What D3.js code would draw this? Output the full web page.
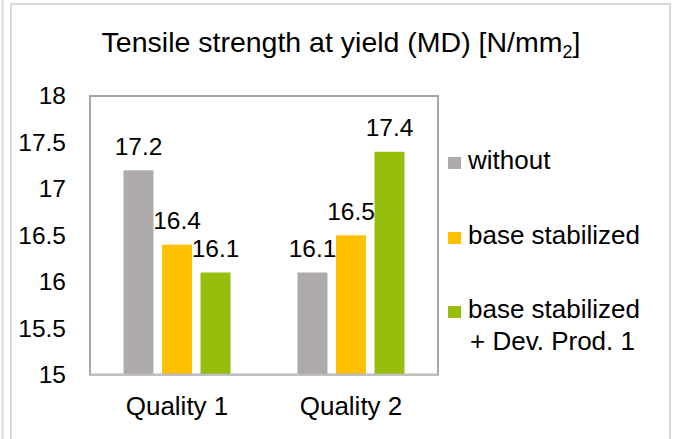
<!DOCTYPE html>
<html>
<head>
<meta charset="utf-8">
<script src="https://cdn.jsdelivr.net/npm/d3@7"></script>
<style>
  html, body { margin: 0; padding: 0; background: #fff; }
  svg { display: block; font-family: "Liberation Sans", Arial, sans-serif; }
</style>
</head>
<body>
<svg id="chart" width="676" height="439"></svg>
<script>
// Tensile strength at yield (MD) per quality and stabilization package
const categories = ["Quality 1", "Quality 2"];
const seriesNames = ["without", "base stabilized", "base stabilized + Dev. Prod. 1"];
const seriesColors = ["#AEAAAA", "#FFC000", "#97BE0D"];
const valuesWithout = [17.2, 16.1];
const valuesBase = [16.4, 16.5];
const valuesBaseDev = [16.1, 17.4];
const yTicks = [15, 15.5, 16, 16.5, 17, 17.5, 18];

const seriesValues = [valuesWithout, valuesBase, valuesBaseDev];
const rows = [];
categories.forEach((c, ci) => {
  seriesNames.forEach((s, si) => rows.push({ category: c, series: s, si, value: seriesValues[si][ci] }));
});

const svg = d3.select("#chart");

// outer chart frame
svg.append("line").attr("x1", 2.5).attr("x2", 2.5).attr("y1", 0).attr("y2", 439)
  .attr("stroke", "#d9d9d9").attr("stroke-width", 2);
svg.append("rect").attr("x", 11).attr("y", 4).attr("width", 659).attr("height", 460)
  .attr("fill", "none").attr("stroke", "#d9d9d9").attr("stroke-width", 2);

const plot = { left: 90, right: 438, top: 96, bottom: 374.7 };

const x0 = d3.scaleBand().domain(categories).range([plot.left, plot.right]).padding(0);
const x1 = d3.scaleBand().domain(seriesNames).range([0, x0.bandwidth()])
  .paddingInner(0.221).paddingOuter(0.87);
const y = d3.scaleLinear().domain([15, 18]).range([plot.bottom, plot.top]);
const color = d3.scaleOrdinal().domain(seriesNames).range(seriesColors);

// title
const title = svg.append("text").attr("x", 341).attr("y", 52).attr("text-anchor", "middle")
  .attr("font-size", 28.5).attr("fill", "#000");
title.append("tspan").text("Tensile strength at yield (MD) [N/mm");
title.append("tspan").attr("font-size", 18).attr("dy", 6).text("2");
title.append("tspan").attr("dy", -6).text("]");

// y axis labels (no tick marks)
const yAxis = d3.axisLeft(y).tickValues(yTicks).tickSize(0).tickPadding(0).tickFormat(d3.format("~g"));
const ya = svg.append("g").attr("transform", `translate(66,0)`).call(yAxis);
ya.select(".domain").remove();
ya.selectAll("text").attr("font-size", 24.5).attr("fill", "#000")
  .attr("font-family", "Liberation Sans, Arial, sans-serif");

// bars
svg.append("g").selectAll("rect").data(rows).join("rect")
  .attr("x", d => x0(d.category) + x1(d.series))
  .attr("y", d => y(d.value))
  .attr("width", x1.bandwidth())
  .attr("height", d => y(15) - y(d.value))
  .attr("fill", d => color(d.series));

// plot border
svg.append("rect").attr("x", plot.left).attr("y", plot.top)
  .attr("width", plot.right - plot.left).attr("height", plot.bottom - plot.top)
  .attr("fill", "none").attr("stroke", "#a6a6a6").attr("stroke-width", 2);
svg.append("line").attr("x1", plot.left).attr("x2", plot.right)
  .attr("y1", plot.bottom).attr("y2", plot.bottom)
  .attr("stroke", "#bfbfbf").attr("stroke-width", 2);

// value labels
svg.append("g").selectAll("text").data(rows).join("text")
  .attr("x", d => x0(d.category) + x1(d.series) + x1.bandwidth() / 2)
  .attr("y", d => y(d.value) - 15.5)
  .attr("text-anchor", "middle").attr("font-size", 24.5).attr("fill", "#000")
  .text(d => d3.format(".1f")(d.value));

// category labels
const xAxis = d3.axisBottom(x0).tickSize(0).tickPadding(0);
const xa = svg.append("g").attr("transform", `translate(0,${plot.bottom})`).call(xAxis);
xa.select(".domain").remove();
xa.selectAll("text").attr("font-size", 26).attr("fill", "#000").attr("dy", null)
  .attr("y", 40).attr("font-family", "Liberation Sans, Arial, sans-serif");

// legend
const legendRows = [
  { name: seriesNames[0], lines: ["without"], baseline: 169 },
  { name: seriesNames[1], lines: ["base stabilized"], baseline: 244 },
  { name: seriesNames[2], lines: ["base stabilized", "+ Dev. Prod. 1"], baseline: 318 }
];
const lg = svg.append("g");
legendRows.forEach(r => {
  lg.append("rect").attr("x", 448).attr("y", r.baseline - 12).attr("width", 13).attr("height", 12)
    .attr("fill", color(r.name));
  const t = lg.append("text").attr("x", 468).attr("y", r.baseline).attr("font-size", 26).attr("fill", "#000");
  r.lines.forEach((ln, i) => t.append("tspan").attr("x", i ? 470 : 468).attr("dy", i ? 32 : 0).text(ln));
});
</script>
</body>
</html>
